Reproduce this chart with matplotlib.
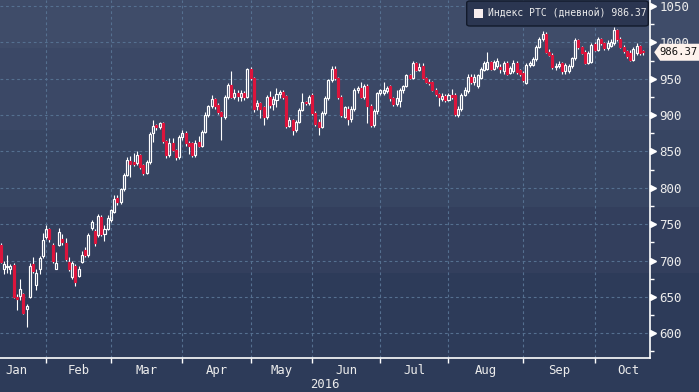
"""RTS index daily candles, Jan-Oct 2016, drawn in a terminal-style dark theme."""

import numpy as np
import matplotlib
matplotlib.use("Agg")
import matplotlib.pyplot as plt
from matplotlib.patches import FancyBboxPatch, Polygon, Rectangle
from matplotlib.transforms import blended_transform_factory

# --- data (one value per trading day) ---
opens = [
    721, 689, 691, 689, 694, 650, 651, 654, 634, 650,
    695, 666, 688, 706, 732, 743, 722, 689, 722, 729,
    724, 698, 678, 693, 679, 698, 715, 708, 745, 741,
    735, 760, 737, 744, 756, 767, 786, 780, 798, 818,
    837, 836, 834, 845, 831, 821, 835, 875, 886, 883,
    889, 864, 845, 861, 852, 843, 870, 875, 861, 861,
    845, 863, 858, 877, 900, 912, 922, 914, 904, 898,
    925, 942, 925, 930, 925, 930, 925, 963, 951, 912,
    916, 911, 897, 925, 915, 921, 929, 932, 926, 885,
    893, 879, 891, 907, 918, 916, 928, 903, 891, 884,
    903, 923, 948, 964, 951, 925, 898, 909, 894, 909,
    934, 937, 925, 940, 912, 886, 905, 930, 931, 933,
    940, 923, 915, 920, 934, 940, 955, 951, 971, 962,
    967, 951, 946, 945, 935, 929, 922, 926, 921, 928,
    928, 900, 908, 928, 933, 953, 946, 940, 951, 962,
    964, 973, 964, 967, 966, 960, 972, 958, 961, 972,
    962, 958, 944, 969, 969, 977, 994, 1004, 1012, 987,
    983, 966, 968, 971, 960, 961, 967, 978, 1003, 993,
    987, 972, 973, 998, 990, 1004, 999, 992, 995, 999,
    1017, 1005, 994, 988, 985, 976, 985, 995, 988,
]
highs = [
    724, 699, 708, 695, 696, 654, 674, 656, 640, 696,
    705, 688, 706, 738, 749, 745, 724, 712, 745, 737,
    731, 705, 700, 695, 692, 713, 719, 738, 756, 743,
    764, 763, 749, 762, 771, 790, 790, 800, 820, 843,
    844, 848, 850, 847, 833, 838, 877, 893, 888, 891,
    891, 866, 868, 869, 854, 873, 880, 878, 864, 863,
    866, 871, 880, 904, 914, 928, 924, 917, 906, 927,
    944, 960, 936, 934, 934, 933, 965, 966, 952, 921,
    918, 913, 928, 933, 926, 937, 934, 935, 928, 897,
    895, 893, 910, 930, 920, 927, 931, 905, 895, 905,
    926, 950, 967, 967, 953, 928, 913, 912, 912, 937,
    940, 946, 943, 943, 915, 908, 932, 936, 946, 940,
    942, 925, 935, 937, 942, 957, 957, 974, 973, 971,
    971, 953, 950, 947, 937, 931, 930, 929, 931, 936,
    930, 912, 930, 938, 956, 956, 957, 957, 966, 975,
    987, 975, 976, 978, 970, 975, 974, 968, 976, 975,
    964, 960, 971, 974, 980, 996, 1007, 1016, 1014, 991,
    985, 972, 974, 973, 972, 970, 980, 1006, 1005, 995,
    990, 988, 999, 1001, 1008, 1006, 1001, 1003, 1004, 1021,
    1019, 1008, 996, 990, 989, 993, 999, 997, 990,
]
lows = [
    697, 682, 683, 682, 648, 632, 646, 626, 608, 648,
    683, 659, 681, 704, 729, 726, 696, 688, 720, 722,
    700, 686, 675, 665, 677, 696, 705, 705, 742, 720,
    733, 734, 727, 742, 753, 765, 777, 778, 796, 816,
    815, 830, 831, 826, 818, 819, 833, 863, 880, 881,
    862, 841, 843, 850, 838, 840, 866, 858, 847, 842,
    843, 856, 856, 875, 897, 910, 909, 901, 866, 895,
    922, 923, 922, 920, 919, 921, 923, 948, 904, 907,
    896, 886, 895, 910, 907, 911, 924, 922, 882, 883,
    873, 877, 889, 905, 914, 914, 900, 885, 872, 882,
    900, 921, 946, 948, 922, 897, 896, 886, 891, 906,
    930, 923, 922, 889, 884, 884, 902, 928, 927, 931,
    919, 912, 913, 911, 931, 938, 949, 949, 960, 960,
    949, 944, 942, 933, 926, 913, 919, 918, 919, 922,
    899, 898, 906, 926, 931, 943, 942, 937, 949, 960,
    962, 962, 962, 965, 958, 956, 955, 956, 958, 957,
    954, 946, 943, 966, 967, 975, 992, 1002, 986, 981,
    964, 962, 965, 957, 956, 958, 965, 976, 991, 984,
    970, 970, 971, 988, 988, 996, 990, 990, 993, 997,
    1002, 992, 985, 978, 974, 974, 983, 983, 983,
]
closes = [
    698, 695, 693, 693, 650, 647, 661, 628, 637, 692,
    685, 683, 704, 728, 744, 729, 700, 696, 739, 725,
    702, 689, 696, 671, 689, 708, 708, 735, 753, 724,
    761, 737, 744, 758, 769, 784, 780, 798, 818, 838,
    833, 833, 845, 829, 820, 835, 874, 885, 883, 889,
    864, 845, 861, 852, 842, 870, 876, 861, 858, 845,
    862, 858, 877, 900, 912, 922, 912, 904, 899, 925,
    942, 925, 930, 926, 930, 925, 963, 951, 909, 916,
    909, 897, 925, 914, 922, 929, 932, 925, 885, 893,
    879, 891, 907, 918, 916, 925, 903, 888, 884, 903,
    923, 948, 964, 951, 925, 900, 911, 894, 909, 934,
    937, 925, 940, 912, 886, 905, 930, 934, 935, 937,
    923, 915, 924, 934, 940, 955, 951, 971, 962, 966,
    951, 946, 944, 935, 929, 925, 926, 921, 928, 925,
    902, 909, 928, 935, 953, 946, 953, 955, 964, 972,
    973, 964, 973, 975, 964, 971, 957, 965, 972, 959,
    956, 948, 969, 971, 977, 994, 1005, 1011, 987, 983,
    966, 968, 970, 960, 969, 967, 978, 1003, 993, 986,
    972, 985, 996, 990, 1005, 999, 992, 999, 1000, 1017,
    1004, 994, 988, 981, 976, 991, 995, 985, 986.37,
]

# first trading day of each month (index into the series) and label spots
month_starts = [14, 34, 56, 77, 96, 117, 138, 161, 183]
month_label_pos = [5, 24, 45, 66.5, 86.5, 106.5, 127.5, 149.5, 172, 193.4]
month_labels = ["Jan", "Feb", "Mar", "Apr", "May", "Jun", "Jul", "Aug", "Sep", "Oct"]
year_label = "2016"
y_ticks = [600, 650, 700, 750, 800, 850, 900, 950, 1000, 1050]
y_minor = [575, 625, 675, 725, 775, 825, 875, 925, 975, 1025]
legend_label = "Индекс РТС (дневной)"
last_value = closes[-1]

# --- style ---
_C_UP = "white"
_C_DOWN = "#dc143c"
_C_GRID = "#557090"
_C_TEXT = "#ececec"
_MONO = "DejaVu Sans Mono"
# background bands, top to bottom (pixel edges of a 392 px tall image)
_BANDS = [(0, 48, "#3f4c69"), (48, 130, "#3b4866"), (130, 207, "#374562"),
          (207, 273, "#333f5d"), (273, 392, "#2d3b59")]

W, H = 699, 392
fig = plt.figure(figsize=(W / 100, H / 100), dpi=100)

bg = fig.add_axes([0, 0, 1, 1])
for y0, y1, col in _BANDS:
    bg.axhspan(1 - y1 / H, 1 - y0 / H, color=col, lw=0)
bg.set_xlim(0, 1); bg.set_ylim(0, 1)
bg.axis("off")

ax = fig.add_axes([0, 34 / H, 649.7 / W, 358 / H])
ax.patch.set_alpha(0)

o = np.array(opens, float); hi = np.array(highs, float)
lo = np.array(lows, float); c = np.array(closes, float)
x = np.arange(len(o))
up = c >= o
top = np.maximum(o, c); bot = np.minimum(o, c)

ax.vlines(x, top, np.maximum(hi, top), color=_C_UP, lw=0.8, zorder=3)
ax.vlines(x, np.minimum(lo, bot), bot, color=_C_UP, lw=0.8, zorder=3)
ax.bar(x[up], (c - o)[up], bottom=o[up], width=0.62, facecolor="none",
       edgecolor=_C_UP, linewidth=0.85, zorder=4)
ax.bar(x[~up], (o - c)[~up], bottom=c[~up], width=0.62, facecolor=_C_DOWN,
       edgecolor=_C_DOWN, linewidth=0.85, zorder=4)

ax.set_xlim(-0.2, 200)
ax.set_ylim(566, 1058.2)

# x axis: month boundaries as ticks/grid, month names in between
ax.set_xticks(month_starts)
ax.set_xticklabels([])
ax.set_xticks(month_label_pos, minor=True)
ax.set_xticklabels(month_labels, minor=True, fontsize=8.8, color=_C_TEXT, family=_MONO)
ax.tick_params(axis="x", which="major", direction="out", length=3.5, width=1, color="white")
ax.tick_params(axis="x", which="minor", length=0, pad=4)

# y axis on the right: triangles at the majors, short lines at the minors
ax.yaxis.tick_right()
ax.set_yticks(y_ticks)
ax.set_yticklabels([str(v) for v in y_ticks], fontsize=9, color=_C_TEXT, family=_MONO)
ax.set_yticks(y_minor, minor=True)
ax.tick_params(axis="y", which="major", length=0, pad=7)
ax.tick_params(axis="y", which="minor", direction="out", length=3, width=1, color="white")
blend = blended_transform_factory(ax.transAxes, ax.transData)
ax.plot([1 + 3.3 / 649.7] * len(y_ticks), y_ticks, ls="none", marker=">", ms=4.2,
        color="white", mec="white", transform=blend, clip_on=False, zorder=6)

ax.grid(True, which="major", color=_C_GRID, ls=(0, (2.5, 2.5)), lw=0.8)
ax.set_axisbelow(True)

for s in ("top", "left"):
    ax.spines[s].set_visible(False)
for s in ("bottom", "right"):
    ax.spines[s].set_color("white")
    ax.spines[s].set_linewidth(1.2)

ax.text(0.5, -0.073, year_label, transform=ax.transAxes, ha="center", va="center",
        fontsize=8.8, color=_C_TEXT, family=_MONO)

# last-value tag on the right axis (it hides part of the 1000 label, as in the original)
tag = Polygon([(1 + 4.5 / 649.7, last_value), (1 + 10.5 / 649.7, last_value + 11.7),
               (1.08, last_value + 11.7), (1.08, last_value - 11.7),
               (1 + 10.5 / 649.7, last_value - 11.7)],
              closed=True, transform=blend, clip_on=False, facecolor="#fdf2ec",
              edgecolor="none", zorder=7)
ax.add_patch(tag)
ax.text(1 + 9.5 / 649.7, last_value, f"{last_value:.2f}", transform=blend, ha="left",
        va="center", fontsize=7.6, color="#111111", family=_MONO, zorder=8)

# legend box, top right
fig.patches.append(FancyBboxPatch((466.7 / W, 1 - 26 / H), 181.6 / W, 25 / H,
                                  boxstyle="round,pad=0,rounding_size=0.005",
                                  transform=fig.transFigure, facecolor="#2b3651",
                                  edgecolor="#121a2b", linewidth=1.0, zorder=10))
fig.patches.append(Rectangle((474.3 / W, 1 - 18.3 / H), 9 / W, 9 / H,
                             transform=fig.transFigure, facecolor="#f7eeee",
                             edgecolor="none", zorder=11))
fig.text(488.3 / W, 1 - 14 / H, f"{legend_label} {last_value:.2f}", ha="left",
         va="center", fontsize=7, color=_C_TEXT, family=_MONO, zorder=12)

fig.savefig("out.png", dpi=100)
